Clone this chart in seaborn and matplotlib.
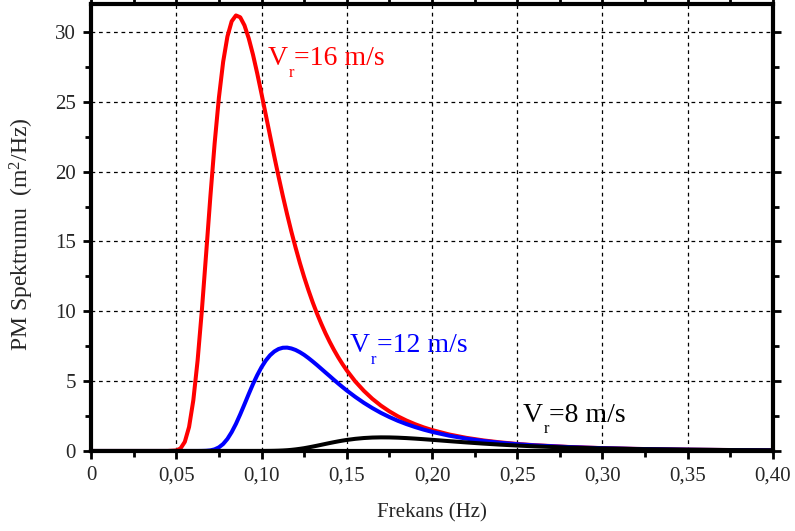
import matplotlib
matplotlib.use("Agg")
import matplotlib.pyplot as plt
from matplotlib.ticker import MultipleLocator, FuncFormatter
import seaborn as sns
import pandas as pd

# Frequency grid (Hz) and Pierson-Moskowitz spectral densities (m^2/Hz)
freq = [0.0, 0.04, 0.045, 0.05, 0.0525, 0.055, 0.0575, 0.06, 0.0625, 0.065,
        0.0675, 0.07, 0.0725, 0.075, 0.0775, 0.08, 0.0825, 0.085, 0.0875,
        0.09, 0.0925, 0.095, 0.0975, 0.10, 0.1025, 0.105, 0.1075, 0.11,
        0.1125, 0.115, 0.1175, 0.12, 0.1225, 0.125, 0.1275, 0.13, 0.1325,
        0.135, 0.1375, 0.14, 0.1425, 0.145, 0.1475, 0.15, 0.155, 0.16, 0.165,
        0.17, 0.175, 0.18, 0.185, 0.19, 0.195, 0.20, 0.21, 0.22, 0.23, 0.24,
        0.25, 0.26, 0.28, 0.30, 0.32, 0.35, 0.38, 0.40]

s_v16 = [0.0, 0.0, 0.0, 0.035, 0.183, 0.65, 1.717, 3.63, 6.46, 10.05,
         14.09, 18.21, 22.02, 25.29, 27.86, 29.67, 30.76, 31.18, 31.05,
         30.47, 29.54, 28.37, 27.02, 25.57, 24.07, 22.57, 21.08, 19.64,
         18.26, 16.95, 15.71, 14.55, 13.46, 12.45, 11.52, 10.65, 9.852,
         9.12, 8.435, 7.81, 7.234, 6.705, 6.218, 5.77, 4.977, 4.31, 3.736,
         3.25, 2.837, 2.48, 2.180, 1.92, 1.694, 1.50, 1.183, 0.943, 0.759, 0.616,
         0.503, 0.415, 0.289, 0.204, 0.148, 0.095, 0.063, 0.0488]

s_v12 = [0.0, 0.0, 0.0, 0.0, 0.0, 0.0, 0.0, 0.0, 0.0, 0.003,
         0.013, 0.043, 0.116, 0.259, 0.50, 0.862, 1.35, 1.94, 2.62,
         3.34, 4.078, 4.79, 5.432, 6.00, 6.475, 6.85, 7.121, 7.30,
         7.39, 7.40, 7.34, 7.23, 7.071, 6.88, 6.655, 6.41, 6.156,
         5.89, 5.623, 5.36, 5.090, 4.83, 4.577, 4.33, 3.872, 3.45, 3.072,
         2.73, 2.431, 2.16, 1.926, 1.717, 1.532, 1.369, 1.098, 0.887, 0.720, 0.589,
         0.485, 0.402, 0.281, 0.200, 0.146, 0.0939, 0.0625, 0.0482]

s_v8 = [0.0, 0.0, 0.0, 0.0, 0.0, 0.0, 0.0, 0.0, 0.0, 0.0,
        0.0, 0.0, 0.0, 0.0, 0.0, 0.0, 0.0, 0.0, 0.0,
        0.0, 0.0, 0.0, 0.0004, 0.001, 0.0026, 0.0057, 0.0112, 0.0203,
        0.034, 0.0536, 0.080, 0.114, 0.154, 0.20, 0.2555, 0.314, 0.376,
        0.440, 0.505, 0.569, 0.630, 0.688, 0.742, 0.790, 0.870, 0.927, 0.961,
        0.974, 0.970, 0.952, 0.923, 0.886, 0.844, 0.799, 0.705, 0.614, 0.530, 0.455,
        0.389, 0.333, 0.244, 0.180, 0.135, 0.0886, 0.0599, 0.0468]

series_names = ["V16", "V12", "V8"]
series_colors = ["#ff0000", "#0000ff", "#000000"]
label_speed = ["=16 m/s", "=12 m/s", "=8 m/s"]
label_pos = [(0.1038, 27.6), (0.152, 7.05), (0.2534, 2.05)]

sns.set_style("ticks")
plt.rcParams["font.family"] = ["Liberation Serif", "DejaVu Serif"]
plt.rcParams["mathtext.fontset"] = "custom"
plt.rcParams["mathtext.rm"] = "Liberation Serif"
plt.rcParams["mathtext.it"] = "Liberation Serif:italic"

df = pd.DataFrame({"f": freq * 3,
                   "S": s_v16 + s_v12 + s_v8,
                   "case": sum([[n] * len(freq) for n in series_names], [])})

fig = plt.figure(figsize=(7.95, 5.31), dpi=100)
ax = fig.add_axes([0.1145, 0.1507, 0.8578, 0.8418])

sns.lineplot(data=df, x="f", y="S", hue="case", hue_order=series_names,
             palette=series_colors, linewidth=2.9, legend=False, ax=ax,
             sort=False)

# Curve labels: "V" with a lowered subscript "r", then the wind speed
for (x, y), speed, c in zip(label_pos, label_speed, series_colors):
    t_v = ax.text(x, y, "V", color=c, fontsize=20, ha="left", va="baseline")
    t_r = ax.annotate("r", xy=(1, y), xycoords=(t_v, "data"),
                      xytext=(0.3, -8), textcoords="offset points",
                      color=c, fontsize=12, ha="left", va="baseline")
    ax.annotate(speed, xy=(1, y), xycoords=(t_r, "data"),
                xytext=(0.3, 0), textcoords="offset points",
                color=c, fontsize=20, ha="left", va="baseline")

ax.set_xlim(0, 0.40)
ax.set_ylim(0, 32)
ax.xaxis.set_major_locator(MultipleLocator(0.05))
ax.xaxis.set_minor_locator(MultipleLocator(0.025))
ax.yaxis.set_major_locator(MultipleLocator(5))
ax.yaxis.set_minor_locator(MultipleLocator(2.5))


def fmt_x(v, _):
    if abs(v) < 1e-9:
        return "0"
    return f"{v:.2f}".replace(".", ",")


ax.xaxis.set_major_formatter(FuncFormatter(fmt_x))
ax.yaxis.set_major_formatter(FuncFormatter(lambda v, _: f"{v:.0f}"))

ax.grid(True, which="major", color="black", linestyle=(0, (3, 3)), linewidth=0.9)
ax.tick_params(which="both", direction="out", width=2, color="black",
               top=True, right=True, labelsize=15, pad=5)
ax.tick_params(which="major", length=6)
ax.tick_params(which="minor", length=4)
for sp in ax.spines.values():
    sp.set_linewidth(3)
    sp.set_color("black")

ax.set_xlabel("Frekans (Hz)", fontsize=15, labelpad=13)
ax.set_ylabel("PM Spektrumu  (m$^{2}$/Hz)", fontsize=17)
ax.yaxis.set_label_coords(-0.081, 0.486)

fig.savefig("out.png", dpi=100)
